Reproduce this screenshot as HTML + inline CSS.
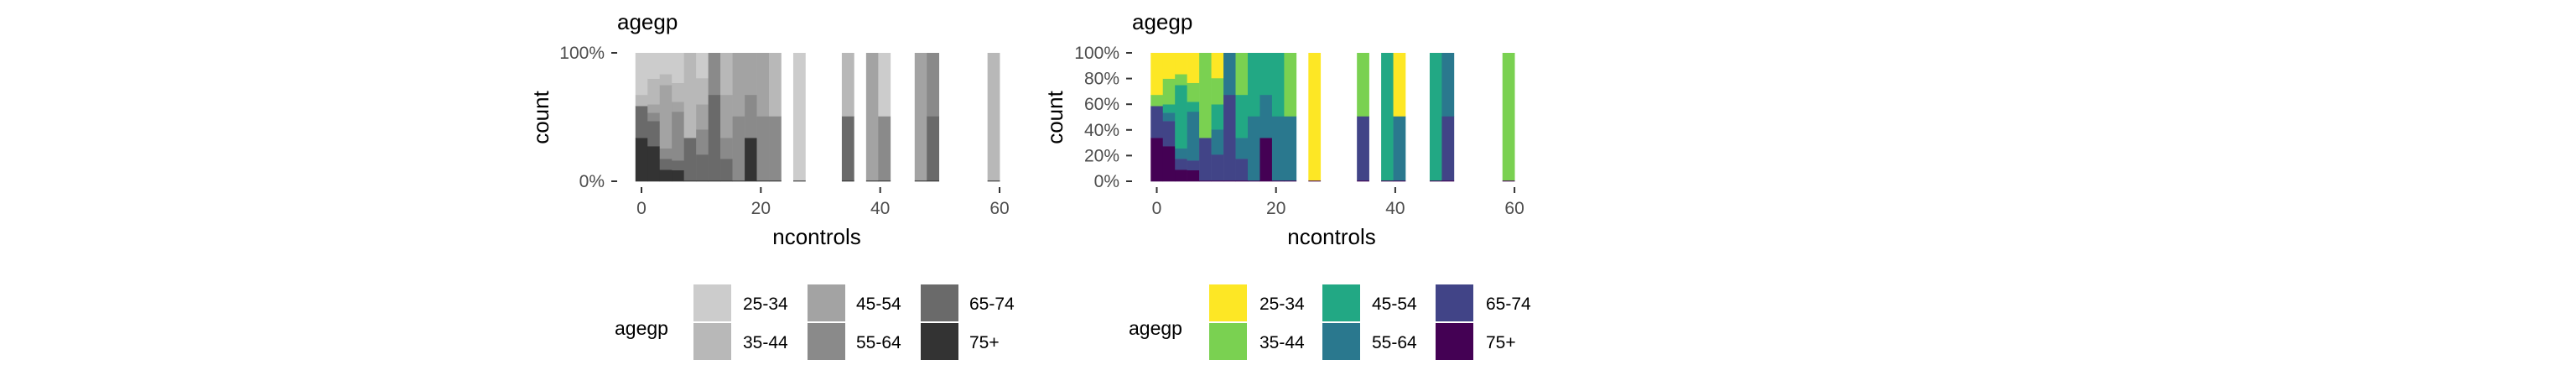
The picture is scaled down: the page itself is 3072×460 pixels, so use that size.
<!DOCTYPE html>
<html><head><meta charset="utf-8"><style>
html,body{margin:0;padding:0;background:#fff;}
svg{display:block;font-family:"Liberation Sans",Arial,sans-serif;}
</style></head><body>
<svg id="chart" width="3072" height="460" viewBox="0 0 3072 460" xmlns="http://www.w3.org/2000/svg"></svg>
<script>
// Data: bin index (ncontrols histogram, 30 bins, width 59/29) and fill proportions per age group
const groups = ["25-34","35-44","45-54","55-64","65-74","75+"];
const grayColors = ["#CCCCCC","#B8B8B8","#A3A3A3","#8A8A8A","#6A6A6A","#333333"];
const viridisColors = ["#FDE725","#7AD151","#22A884","#2A788E","#414487","#440154"];
const binIndex = [0,1,2,3,4,5,6,7,8,9,10,11,13,17,19,20,23,24,29];
// values per group (percent) for each bin, same order as binIndex
const v2534 = [32.6,20,16.5,23.3,0,19.6,0,0,0,0,0,0,99.3,0,0,49.3,0,0,0];
const v3544 = [8.7,20,8.5,14.7,66.1,20.4,0,32.6,0,0,0,49.3,0,49.3,0,0,0,0,99.3];
const v4554 = [0,6.5,49.3,7.7,0,19.6,0,33.5,49.3,32.6,49.3,0,0,0,99.3,0,99.3,0,0];
const v5564 = [0,6.5,8.1,38,0,19.5,32.6,16.3,50,33.5,50,50,0,0,0,50,0,49.3,0];
const v6574 = [24.8,19.6,8.5,7.6,33.2,20.2,66.7,16.9,0,0,0,0,0,50,0,0,0,50,0];
const v75p = [33.9,27.4,9.1,8.7,0.7,0.7,0.7,0.7,0.7,33.9,0.7,0.7,0.7,0.7,0.7,0.7,0.7,0.7,0.7];
const series = [v2534,v3544,v4554,v5564,v6574,v75p];
const xTicks = [0,20,40,60];
const binWidth = 59/29;

const NS="http://www.w3.org/2000/svg";
const svg=document.getElementById('chart');
function el(tag,attrs,parent){const e=document.createElementNS(NS,tag);for(const k in attrs)e.setAttribute(k,attrs[k]);(parent||svg).appendChild(e);return e;}

function panel(cfg){
  const g=el('g',{});
  
  
  const x=v=>cfg.x0+v*cfg.ppu;
  const y0=216,y1=63;
  const y=p=>y0-(y0-y1)*p/100;
  // bars
  binIndex.forEach((bi,j)=>{
    let total=0;series.forEach(s=>total+=s[j]);
    let cum=0;
    const c=bi*binWidth;
    // stack from bottom: 75+ first
    for(let gi=groups.length-1;gi>=0;gi--){
      const val=series[gi][j]/total*100;
      if(val<=0)continue;
      const r=el('rect',{x:x(c-binWidth/2),y:y(cum+val),width:binWidth*cfg.ppu+0.3,height:y(cum)-y(cum+val)+0.3,fill:cfg.colors[gi]},g);
      
      
      cum+=val;
    }
  });
  // y axis
  cfg.yTicks.forEach(t=>{
    const ty=y(t);
    const l=el('line',{x1:cfg.ytickX,x2:cfg.ytickX+7,y1:ty,y2:ty,stroke:'#333','stroke-width':2},g);
    
    
    const tx=el('text',{x:cfg.ylabX,y:ty+7,'text-anchor':'end','font-size':21,fill:'#4D4D4D'},g);
    tx.textContent=t+'%';
    
    
  });
  xTicks.forEach(t=>{
    const tx0=x(t);
    const l=el('line',{x1:tx0,x2:tx0,y1:223,y2:230,stroke:'#333','stroke-width':2},g);
    
    
    const tt=el('text',{x:tx0,y:255,'text-anchor':'middle','font-size':21,fill:'#4D4D4D'},g);
    tt.textContent=t;
    
    
  });
  const title=el('text',{x:cfg.titleX,y:35,'font-size':26,fill:'#000'},g);
  title.textContent='agegp';
  
  
  const xt=el('text',{x:cfg.xTitleX,y:291,'text-anchor':'middle','font-size':26,fill:'#000'},g);
  xt.textContent='ncontrols';
  
  
  const yt=el('text',{x:0,y:0,'text-anchor':'middle','font-size':26,fill:'#000',transform:'translate('+(cfg.yTitleX+9)+',140) rotate(-90)'},g);
  yt.textContent='count';
  
  
  // legend
  const lt=el('text',{x:cfg.legX,y:399,'font-size':23,fill:'#000'},g);
  lt.textContent='agegp';
  
  
  groups.forEach((gname,i)=>{
    const col=Math.floor(i/2),row=i%2;
    const kx=cfg.keyX[col],ky=row?385:339;
    const r=el('rect',{x:kx,y:ky,width:45,height:44,fill:cfg.colors[i]},g);
    
    
    const t=el('text',{x:cfg.labX[col],y:ky+30,'font-size':21,fill:'#000'},g);
    t.textContent=gname;
    
    
  });
}
panel({name:'gray-panel',colors:grayColors,x0:765,ppu:7.117,yTicks:[0,100],ytickX:729,ylabX:721,titleX:736,xTitleX:974,yTitleX:645,legX:733,keyX:[827,963,1098],labX:[886,1021,1156]});
panel({name:'viridis-panel',colors:viridisColors,x0:1379.5,ppu:7.11,yTicks:[0,20,40,60,80,100],ytickX:1343,ylabX:1335,titleX:1350,xTitleX:1588,yTitleX:1258,legX:1346,keyX:[1442,1577,1712],labX:[1502,1636,1772]});
</script>
</body></html>
